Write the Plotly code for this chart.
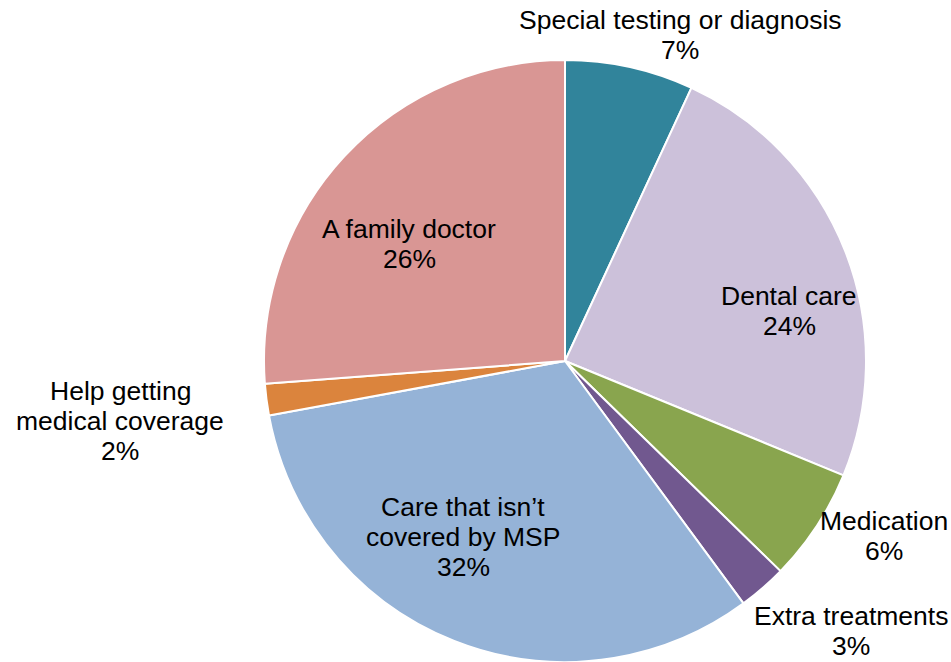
import plotly.graph_objects as go

labels = ["Special testing or diagnosis", "Dental care", "Medication", "Extra treatments",
          "Care that isn’t covered by MSP", "Help getting medical coverage", "A family doctor"]
values = [6.9, 24.3, 6.1, 2.6, 32.2, 1.7, 26.2]
colors = ["#31849B", "#CCC1DA", "#89A54E", "#71588F", "#95B3D7", "#DB843D", "#D99694"]

# label lines (display text) and their pixel positions (style)
label_lines = [
    ["Special testing or diagnosis"],
    ["Dental care"],
    ["Medication"],
    ["Extra treatments"],
    ["Care that isn’t", "covered by MSP"],
    ["Help getting", "medical coverage"],
    ["A family doctor"],
]
label_pos = [(680, 20), (789, 296), (884, 521), (851, 616), (463, 507), (120, 391), (409, 229)]
line_pitch = 30

W, H = 951, 662
cx, cy, r = 565, 361, 301

fig = go.Figure(go.Pie(
    labels=labels, values=values, sort=False, direction="clockwise", rotation=0,
    marker=dict(colors=colors, line=dict(color="white", width=2)),
    textinfo="none", hoverinfo="label+percent", showlegend=False,
    domain=dict(x=[(cx - r) / W, (cx + r) / W], y=[max(0, (H - cy - r) / H), (H - cy + r) / H]),
))

total = sum(values)
annotations = []
for lines, v, (x, y) in zip(label_lines, values, label_pos):
    texts = lines + [f"{round(v / total * 100)}%"]
    for i, t in enumerate(texts):
        yy = y + i * line_pitch
        annotations.append(dict(
            x=x / W, y=1 - yy / H, xref="paper", yref="paper", text=t, showarrow=False,
            xanchor="center", yanchor="middle",
            font=dict(family="Liberation Sans, Arial", size=26.5, color="#000000"),
        ))

fig.update_layout(
    width=W, height=H, margin=dict(l=0, r=0, t=0, b=0),
    paper_bgcolor="white", plot_bgcolor="white", annotations=annotations,
)
fig.write_html("out.html", config={"displayModeBar": False},
               post_script="document.body.style.margin='0';document.body.style.overflow='hidden';")
